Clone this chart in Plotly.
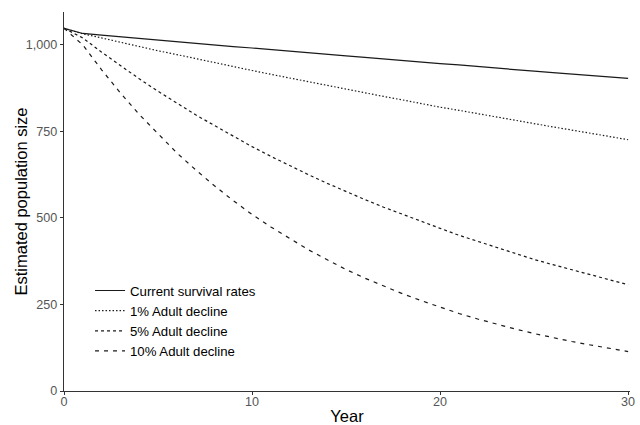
import plotly.graph_objects as go

years = list(range(0, 31))

current = [1048, 1033, 1028, 1023, 1019, 1014, 1009, 1005, 1000, 995, 991,
           986, 982, 977, 973, 968, 964, 959, 955, 950, 946,
           942, 937, 933, 929, 924, 920, 916, 911, 907, 903]
adult1 = [1048, 1032, 1020, 1007, 995, 983, 972, 960, 948, 937, 926,
          915, 904, 893, 882, 872, 861, 851, 841, 830, 820,
          811, 801, 791, 782, 772, 763, 754, 745, 736, 726]
adult5 = [1048, 1020, 979, 940, 902, 866, 832, 798, 767, 736, 706,
          678, 651, 625, 600, 576, 553, 531, 510, 489, 470,
          450, 432, 414, 397, 380, 365, 350, 335, 321, 307]
adult10 = [1048, 1000, 928, 861, 799, 742, 688, 639, 593, 550, 510,
           474, 440, 408, 379, 351, 326, 303, 281, 261, 242,
           224, 208, 193, 179, 166, 154, 143, 133, 123, 114]

series_names = ["Current survival rates", "1% Adult decline",
                "5% Adult decline", "10% Adult decline"]
series_values = [current, adult1, adult5, adult10]
dashes = ["solid", "1.5px,2px", "3px,3px", "4px,5px"]

x_ticks = [0, 10, 20, 30]
y_ticks = [0, 250, 500, 750, 1000]
y_tick_labels = ["0", "250", "500", "750", "1,000"]

fig = go.Figure()
for name, vals, d in zip(series_names, series_values, dashes):
    fig.add_trace(go.Scatter(
        x=years, y=vals, mode="lines", name=name,
        line=dict(color="#1a1a1a", width=1.2, dash=d),
    ))

font_family = "Liberation Sans, Arial, sans-serif"
fig.update_layout(
    width=640, height=425,
    margin=dict(l=64, r=10, t=12, b=34),
    paper_bgcolor="white", plot_bgcolor="white",
    font=dict(family=font_family, color="#000000"),
    showlegend=True,
    legend=dict(x=0.046, y=0.305, xanchor="left", yanchor="top",
                bgcolor="rgba(0,0,0,0)", font=dict(size=13.2, color="#000000"),
                itemwidth=30, tracegroupgap=0),
    annotations=[dict(
        text="Estimated population size", textangle=-90,
        xref="paper", yref="paper", x=-0.0777, y=0.5,
        xanchor="center", yanchor="middle", showarrow=False,
        font=dict(size=16.5, color="#000000"),
    )],
)
fig.update_xaxes(
    range=[0, 30.1], tickmode="array", tickvals=x_ticks, automargin=False,
    showgrid=False, zeroline=False, showline=True, linecolor="#333333", linewidth=1.2,
    ticks="outside", ticklen=3, tickcolor="#333333", ticklabelstandoff=-4,
    tickfont=dict(size=12.6, color="#555555"),
    title=dict(text="Year", font=dict(size=16.5, color="#000000"), standoff=2),
)
fig.update_yaxes(
    range=[0, 1095], tickmode="array", tickvals=y_ticks, ticktext=y_tick_labels,
    automargin=False,
    showgrid=False, zeroline=False, showline=True, linecolor="#333333", linewidth=1.2,
    ticks="outside", ticklen=3, tickcolor="#333333",
    tickfont=dict(size=12.6, color="#555555"),
)

fig.write_html("out.html", config={"displayModeBar": False},
               post_script="document.body.style.margin='0';")
